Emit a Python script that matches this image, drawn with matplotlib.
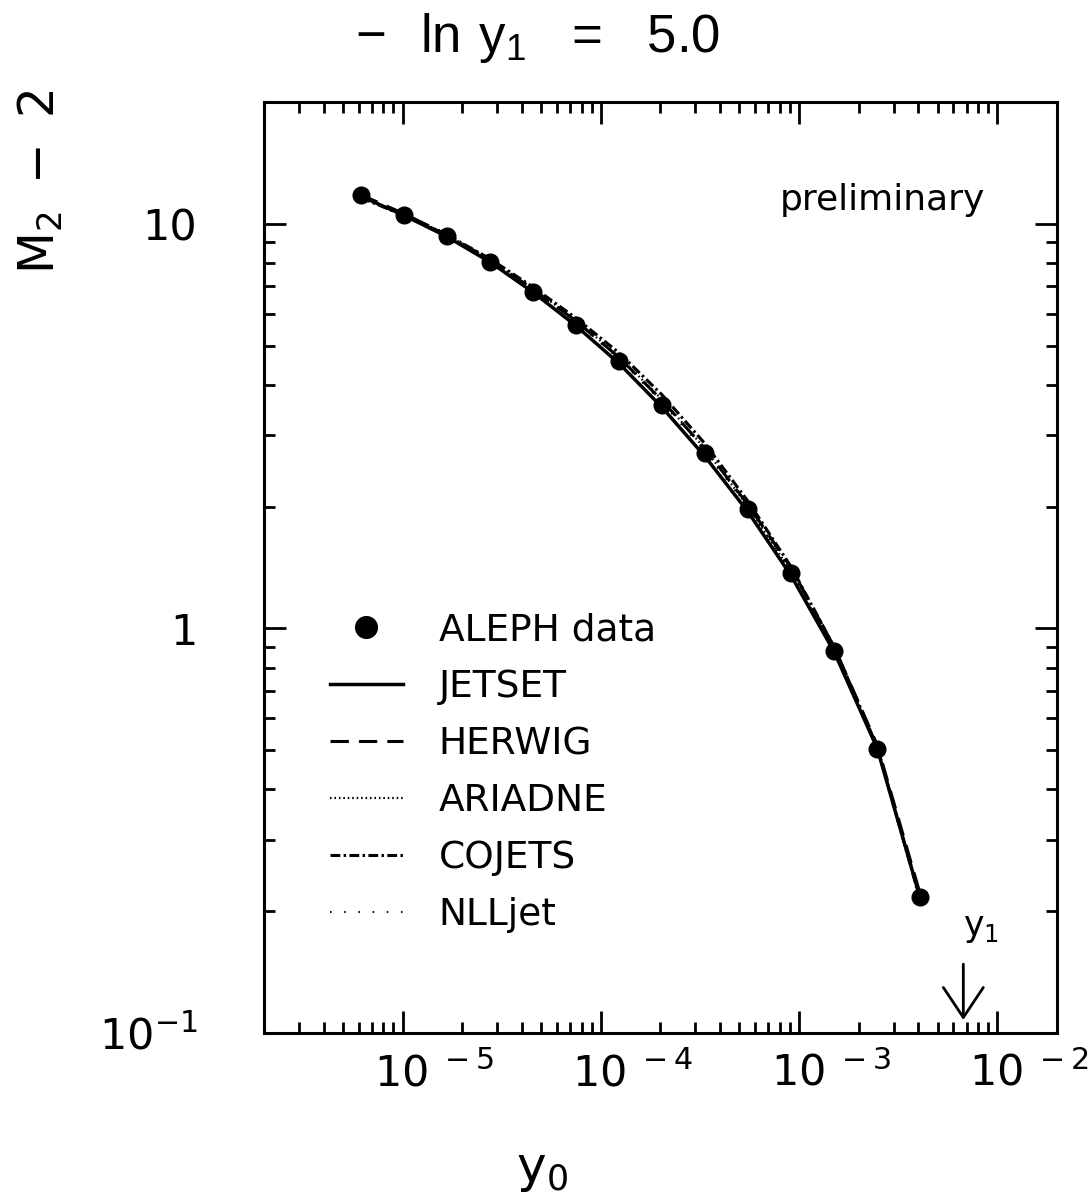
import numpy as np
import matplotlib
matplotlib.use("Agg")
import matplotlib.pyplot as plt
from matplotlib.ticker import FixedLocator, FixedFormatter, NullFormatter, LogLocator
from matplotlib.transforms import ScaledTranslation

plt.rcParams['font.family'] = ['DejaVu Sans']
plt.rcParams['mathtext.fontset'] = 'dejavusans'

# ln(y0) values of the measured points, -ln y1 = 5.0
ln_y0 = [-12.0, -11.5, -11.0, -10.5, -10.0, -9.5, -9.0, -8.5, -8.0, -7.5, -7.0, -6.5, -6.0, -5.5]
y0 = np.exp(ln_y0)

# M2 - 2
aleph = [11.79, 10.52, 9.34, 8.06, 6.80, 5.63, 4.57, 3.56, 2.71, 1.97, 1.37, 0.880, 0.504, 0.2165]
jetset = [11.70, 10.50, 9.30, 8.05, 6.78, 5.60, 4.52, 3.52, 2.66, 1.94, 1.35, 0.875, 0.505, 0.215]
herwig = [11.80, 10.60, 9.40, 8.15, 6.90, 5.75, 4.68, 3.66, 2.78, 2.02, 1.41, 0.900, 0.515, 0.220]
ariadne = [11.70, 10.55, 9.40, 8.15, 6.92, 5.78, 4.70, 3.68, 2.78, 2.00, 1.38, 0.880, 0.505, 0.215]
cojets = [11.60, 10.50, 9.40, 8.20, 6.98, 5.85, 4.80, 3.78, 2.86, 2.06, 1.42, 0.900, 0.510, 0.213]
nlljet = [11.80, 10.60, 9.45, 8.15, 6.90, 5.72, 4.64, 3.62, 2.74, 1.99, 1.38, 0.885, 0.508, 0.218]

y1 = np.exp(-5.0)

xticks = [1e-5, 1e-4, 1e-3, 1e-2]
xticklabels = [r'$\mathregular{10^{\ -5}}$', r'$\mathregular{10^{\ -4}}$',
               r'$\mathregular{10^{\ -3}}$', r'$\mathregular{10^{\ -2}}$']
yticks = [0.1, 1, 10]
yticklabels = [r'$\mathregular{10^{-1}}$', '1', '10']

W, H = 1092, 1204
fig = plt.figure(figsize=(W / 100, H / 100), dpi=100)
ax = fig.add_axes([264 / W, 1 - 1033 / H, (1057 - 264) / W, (1033 - 102) / H])
ax.set_xscale('log')
ax.set_yscale('log')
ax.set_xlim(2e-6, 2e-2)
ax.set_ylim(0.1, 20)

# model curves
ax.plot(y0, jetset, color='black', lw=2.5, ls='-', label='JETSET')
ax.plot(y0, herwig, color='black', lw=2.2, ls=(0, (6, 3.3)), label='HERWIG')
ax.plot(y0, ariadne, color='black', lw=1.6, ls=(0, (0.7, 1.3)), label='ARIADNE')
ax.plot(y0, cojets, color='black', lw=2.2, ls=(0, (3.2, 1.1, 0.8, 1.1)), label='COJETS')
ax.plot(y0, nlljet, color='black', lw=1.4, ls=(0, (0.8, 6.5)), label='NLLjet')
ax.plot(y0, aleph, 'o', color='black', ms=12, label='ALEPH data', zorder=5)

handles, labels = ax.get_legend_handles_labels()
order = [5, 0, 1, 2, 3, 4]
ax.legend([handles[i] for i in order], [labels[i] for i in order],
          loc='upper left', bbox_to_anchor=(0.083, 0.452), borderaxespad=0, borderpad=0,
          frameon=False, fontsize=27, handlelength=1.95, handletextpad=0.95,
          labelspacing=0.56, markerscale=1.3)

# y1 arrow
ax.annotate('', xy=(y1, 0.1077), xytext=(y1, 0.148),
            arrowprops=dict(arrowstyle='->,head_length=0.54,head_width=0.36', lw=2,
                            color='black', mutation_scale=40, shrinkA=0, shrinkB=0))
ax.text(y1, 0.182, r'$\mathregular{y_1}$', fontsize=25, ha='left', va='center')

ax.text(0.909, 0.895, 'preliminary', transform=ax.transAxes, fontsize=26,
        ha='right', va='center')

# axes styling
for s in ax.spines.values():
    s.set_linewidth(2.2)
ax.tick_params(which='both', direction='in', top=True, right=True, width=2, color='black')
ax.tick_params(which='major', length=16)
ax.tick_params(which='minor', length=8)
ax.xaxis.set_major_locator(FixedLocator(xticks))
ax.xaxis.set_major_formatter(FixedFormatter(xticklabels))
ax.xaxis.set_minor_locator(LogLocator(base=10, subs=np.arange(2, 10), numticks=20))
ax.xaxis.set_minor_formatter(NullFormatter())
ax.yaxis.set_major_locator(FixedLocator(yticks))
ax.yaxis.set_major_formatter(FixedFormatter(yticklabels))
ax.yaxis.set_minor_locator(LogLocator(base=10, subs=np.arange(2, 10), numticks=20))
ax.yaxis.set_minor_formatter(NullFormatter())
ax.tick_params(axis='x', which='major', labelsize=31, pad=14)
ax.tick_params(axis='y', which='major', labelsize=31, pad=48)
for lab in ax.get_xticklabels():
    lab.set_transform(lab.get_transform() + ScaledTranslation(0.32, 0, fig.dpi_scale_trans))

fig.text(538 / W, 1 - 38 / H, r'$\mathregular{-\ \ ln\ y_1\ \ =\ \ 5.0}$', fontsize=38,
         family='Liberation Sans', ha='center', va='center')
fig.text(40 / W, 1 - 182 / H, r'$\mathregular{M_2\ -\ 2}$', fontsize=35,
         rotation=90, ha='center', va='center')
fig.text(542 / W, 1 - 1170 / H, r'$\mathregular{y_0}$', fontsize=36,
         ha='center', va='center')

fig.savefig('out.png', dpi=100)
